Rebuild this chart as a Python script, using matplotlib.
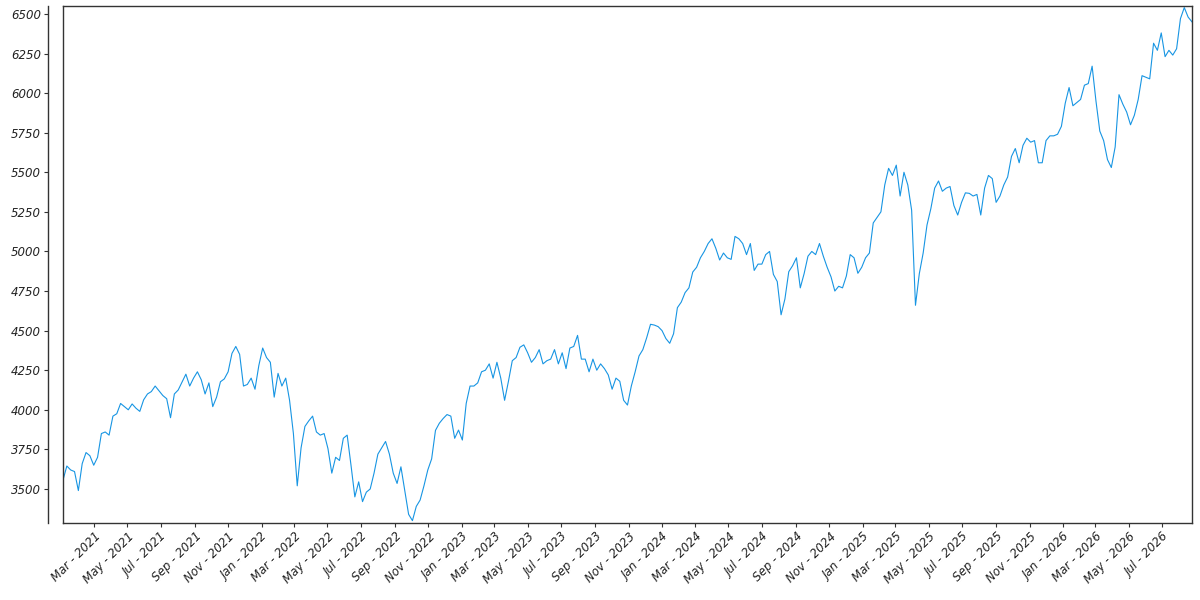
import matplotlib
matplotlib.use("Agg")
import matplotlib.pyplot as plt
import matplotlib.dates as mdates
import pandas as pd

# Weekly closing values (first week: 2021-01-04)
start_date = "2021-01-04"
values_2021 = [
    3556, 3645, 3620, 3610, 3490, 3660, 3730, 3710, 3650, 3700,
    3850, 3860, 3840, 3960, 3975, 4040, 4020, 4000, 4037, 4010,
    3990, 4063, 4100, 4115, 4150, 4120, 4090, 4070, 3950, 4100,
    4125, 4175, 4225, 4150, 4200, 4240, 4190, 4100, 4170, 4020,
    4080, 4177, 4195, 4240, 4356, 4400, 4350, 4150, 4160, 4200,
    4130, 4280,
]
values_2022 = [
    4390, 4330, 4300, 4080, 4230, 4150, 4200, 4060, 3850, 3520,
    3760, 3895, 3930, 3960, 3860, 3840, 3850, 3755, 3600, 3700,
    3680, 3820, 3840, 3650, 3450, 3545, 3420, 3480, 3500, 3600,
    3720, 3760, 3800, 3720, 3600, 3535, 3640, 3490, 3340, 3300,
    3390, 3430, 3520, 3620, 3690, 3870, 3915, 3945, 3970, 3960,
    3820,
]
values_2023 = [
    3872, 3809, 4040, 4150, 4150, 4170, 4240, 4250, 4290, 4200,
    4300, 4200, 4060, 4180, 4310, 4330, 4395, 4410, 4360, 4300,
    4330, 4380, 4290, 4310, 4320, 4380, 4290, 4360, 4260, 4390,
    4400, 4470, 4320, 4320, 4240, 4320, 4250, 4290, 4260, 4220,
    4130, 4200, 4180, 4060, 4030, 4150, 4240, 4340, 4380, 4455,
    4540,
]
values_2024 = [
    4535, 4525, 4500, 4450, 4420, 4480, 4645, 4680, 4740, 4770,
    4870, 4900, 4960, 5000, 5050, 5080, 5020, 4946, 4990, 4960,
    4950, 5095, 5080, 5050, 4980, 5050, 4880, 4920, 4920, 4980,
    5000, 4855, 4810, 4600, 4700, 4872, 4910, 4960, 4770, 4860,
    4970, 5000, 4980, 5050, 4970, 4900, 4840, 4750, 4780,
]
values_2025 = [
    4770, 4845, 4980, 4960, 4862, 4900, 4960, 4990, 5180, 5215,
    5250, 5420, 5525, 5480, 5545, 5350, 5500, 5420, 5260, 4660,
    4860, 4990, 5167, 5270, 5400, 5445, 5380, 5400, 5410, 5290,
    5230, 5310, 5370, 5367, 5350, 5360, 5230, 5400, 5480, 5460,
    5310, 5350, 5420, 5470, 5600, 5650, 5560, 5670, 5715, 5690,
    5700, 5560, 5560,
]
values_2026 = [
    5700, 5730, 5730, 5740, 5790, 5936, 6035, 5920, 5940, 5960,
    6050, 6060, 6170, 5950, 5760, 5700, 5580, 5530, 5660, 5990,
    5930, 5880, 5800, 5860, 5960, 6110, 6100, 6090, 6315, 6270,
    6380, 6230, 6270, 6240, 6280, 6470, 6540, 6480, 6450,
]
values = values_2021 + values_2022 + values_2023 + values_2024 + values_2025 + values_2026
dates = pd.date_range(start_date, periods=len(values), freq="7D")

y_ticks = [3500, 3750, 4000, 4250, 4500, 4750, 5000, 5250, 5500, 5750, 6000, 6250, 6500]

line_color = "#1795e3"
frame_color = "#333333"
text_color = "#222222"

fig = plt.figure(figsize=(12, 6), dpi=100)
ax = fig.add_axes([0.0525, 0.1283, 0.9408, 0.8617])
ax.plot(dates, values, color=line_color, lw=0.8)

ax.set_xlim(dates[0], dates[-1])
ax.set_ylim(3285, 6550)

for s in ax.spines.values():
    s.set_color(frame_color)
    s.set_linewidth(1.0)
ax.spines["left"].set_position(("outward", 10.8))
# inner frame edge on the left
ax.plot([0, 0], [0, 1], transform=ax.transAxes, color=frame_color, lw=1.0, clip_on=False)

ax.set_yticks(y_ticks)
ax.xaxis.set_major_locator(mdates.MonthLocator(bymonth=[1, 3, 5, 7, 9, 11]))
ax.xaxis.set_major_formatter(mdates.DateFormatter("%b - %Y"))

ax.tick_params(axis="both", direction="out", length=3, width=0.8, color=frame_color,
               labelcolor=text_color, labelsize=8.5, pad=2)
for lab in ax.get_yticklabels():
    lab.set_fontstyle("italic")
for lab in ax.get_xticklabels():
    lab.set_fontstyle("italic")
    lab.set_rotation(45)
    lab.set_ha("right")
    lab.set_va("top")
    lab.set_rotation_mode("anchor")

fig.savefig("out.png", dpi=100)
